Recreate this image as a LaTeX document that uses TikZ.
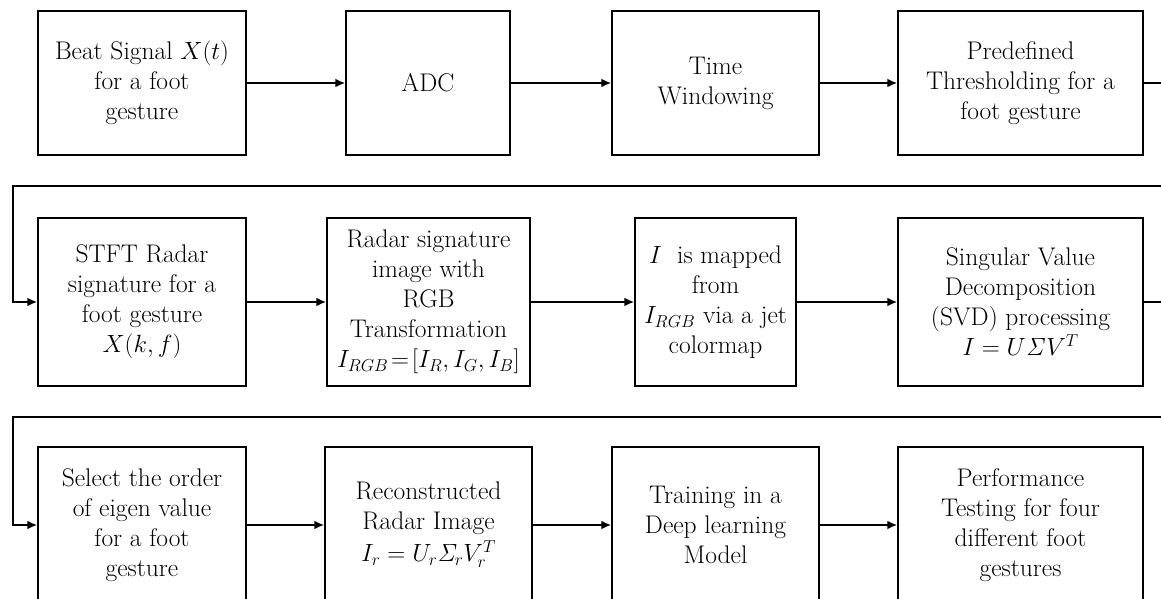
\documentclass[tikz,border=0pt]{standalone}
\usepackage{amsmath}
\usetikzlibrary{arrows.meta}

\begin{document}
\begin{tikzpicture}[x=1pt,y=-1pt,
    every node/.style={font=\fontsize{25.5}{30}\selectfont},
    blk/.style={draw,line width=1.5pt,align=center,inner sep=1pt},
    flow/.style={line width=2.6pt,-{Latex[length=10pt,width=9pt]}},
    loop/.style={line width=2.8pt}]
  \clip (0,0) rectangle (1161,599);
  % first row
  \node[blk,minimum width=208pt,minimum height=144pt] (beat)
        at (142,83) {Beat Signal $X(t)$\\for a foot\\gesture};
  \node[blk,minimum width=164pt,minimum height=144pt] (adc)
        at (428,83) {ADC};
  \node[blk,minimum width=207pt,minimum height=144pt] (window)
        at (715.5,83) {Time\\Windowing};
  \node[blk,minimum width=245pt,minimum height=144pt] (thresh)
        at (1020.5,83) {Predefined\\Thresholding for a\\foot gesture};
  % second row
  \node[blk,minimum width=208pt,minimum height=168pt] (stft)
        at (142,302) {STFT Radar\\signature for a\\foot gesture\\$X(k,f)$};
  \node[blk,minimum width=203pt,minimum height=168pt] (rgb)
        at (428.5,302) {Radar signature\\image with\\RGB\\Transformation\\$I_{RGB}\!=\![I_R,I_G,I_B]$};
  \node[blk,minimum width=161pt,minimum height=168pt] (jet)
        at (715.5,302) {$I$~ is mapped\\from\\$I_{RGB}$ via a jet\\colormap};
  \node[blk,minimum width=245pt,minimum height=168pt] (svd)
        at (1020.5,302) {Singular Value\\Decomposition\\(SVD) processing\\$I=U\mathit{\Sigma} V^T$};
  % third row
  \node[blk,minimum width=208pt,minimum height=156pt] (order)
        at (142,525) {Select the order\\of eigen value\\for a foot\\gesture};
  \node[blk,minimum width=207pt,minimum height=156pt] (recon)
        at (428.5,525) {Reconstructed\\Radar Image\\[2pt]$I_r=U_r\mathit{\Sigma}_r V_r^T$};
  \node[blk,minimum width=207pt,minimum height=156pt] (train)
        at (715.5,525) {Training in a\\Deep learning\\Model};
  \node[blk,minimum width=245pt,minimum height=156pt] (test)
        at (1020.5,525) {Performance\\Testing for four\\different foot\\gestures};
  % wrap-around points
  \coordinate (r1) at (1180,83);
  \coordinate (l1) at (13,186);
  \coordinate (r2) at (1180,302);
  \coordinate (l2) at (13,417);

  \draw[flow] (beat) -- (adc);
  \draw[flow] (adc) -- (window);
  \draw[flow] (window) -- (thresh);
  \draw[flow,loop] (thresh.east) -- (r1) |- (l1) |- (stft.west);
  \draw[flow] (stft) -- (rgb);
  \draw[flow] (rgb) -- (jet);
  \draw[flow] (jet) -- (svd);
  \draw[flow,loop] (svd.east) -- (r2) |- (l2) |- (order.west);
  \draw[flow] (order) -- (recon);
  \draw[flow] (recon) -- (train);
  \draw[flow] (train) -- (test);
\end{tikzpicture}
\end{document}
